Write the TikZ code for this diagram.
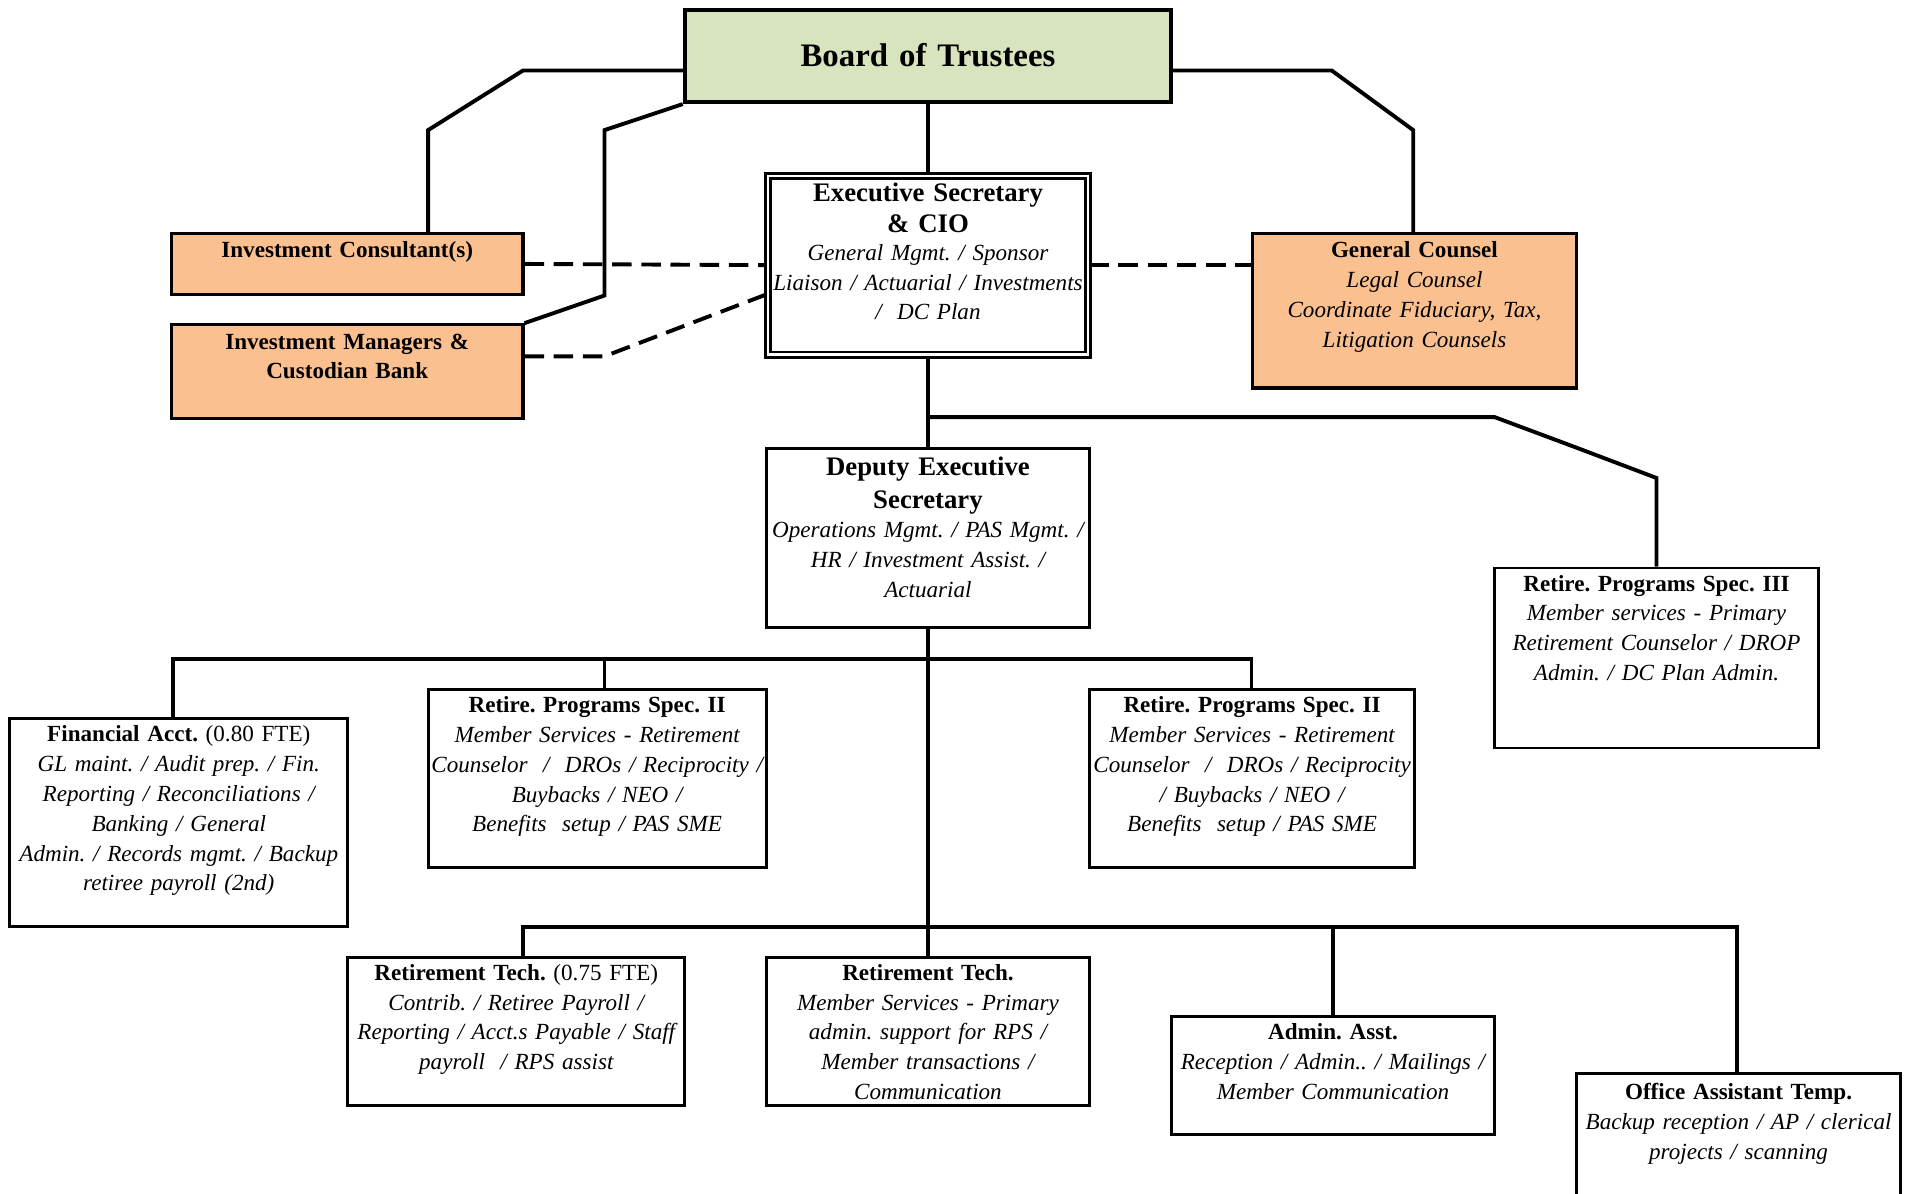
\documentclass[tikz,border=0pt]{standalone}
\usepackage{fontspec}
\setmainfont{Liberation Serif}
\definecolor{peach}{HTML}{FAC090}
\definecolor{boardgreen}{HTML}{D7E4BD}
\newcommand\orgtitle[1]{{\upshape\bfseries #1}}
\tikzset{
  box/.style={draw, rectangle, inner sep=0pt, line width=2.4pt, fill=white},
  peachbox/.style={box, fill=peach, line width=2.6pt},
  txt/.style={anchor=base, inner sep=0pt, align=center, text width=320pt,
    font=\fontsize{19}{24.5}\selectfont\itshape\frenchspacing},
  bigtxt/.style={anchor=base, inner sep=0pt, align=center, text width=320pt,
    font=\fontsize{22}{25.5}\selectfont\bfseries\frenchspacing},
  conn/.style={line width=3.2pt, line join=miter},
  dashconn/.style={line width=3.2pt, dash pattern=on 16pt off 8pt},
}
\begin{document}
\frenchspacing
\begin{tikzpicture}[x=1pt,y=-1pt]
\useasboundingbox (0,0) rectangle (1568,981);
\clip (0,0) rectangle (1568,981);

% boxes
\node[box, fill=boardgreen, line width=3.2pt, minimum width=400pt, minimum height=76pt] (board) at (763,46) {};
\node[peachbox, minimum width=289pt, minimum height=50pt] (ic) at (285.5,217) {};
\node[peachbox, minimum width=289pt, minimum height=77pt] (im) at (285.5,305.5) {};
\node[peachbox, minimum width=266pt, minimum height=127pt] (gc) at (1163,255.5) {};
\node[draw, rectangle, inner sep=0pt, line width=2.3pt, double=white, double distance=2pt, minimum width=263pt, minimum height=147pt] (exec) at (763,218) {};
\node[box, minimum width=266pt, minimum height=147pt] (dep) at (763,442.5) {};
\node[box, minimum width=266pt, minimum height=148pt] (s3) at (1362,541) {};
\node[box, minimum width=278pt, minimum height=171pt] (fin) at (147,676.5) {};
\node[box, minimum width=278pt, minimum height=146pt] (s2a) at (491,640) {};
\node[box, minimum width=267pt, minimum height=146pt] (s2b) at (1029.5,640) {};
\node[box, minimum width=277pt, minimum height=122pt] (rt1) at (424.5,848) {};
\node[box, minimum width=266pt, minimum height=122pt] (rt2) at (763,848) {};
\node[box, minimum width=266pt, minimum height=97pt] (aa) at (1096,884.5) {};
\node[box, minimum width=267pt, minimum height=114pt] (oa) at (1429.5,940) {};

% texts
\node[bigtxt, font=\fontsize{27}{30}\selectfont\bfseries] (board-t) at (763,55) {Board of Trustees};
\node[txt] (ic-t) at (285.5,212) {\orgtitle{Investment Consultant(s)}};
\node[txt] (im-t) at (285.5,287) {\orgtitle{Investment Managers \&}\\\orgtitle{Custodian Bank}};
\node[txt] (gc-t) at (1163,212) {\orgtitle{General Counsel}\\Legal Counsel\\Coordinate Fiduciary, Tax,\\Litigation Counsels};
\node[bigtxt] (exec-tt) at (763,166) {Executive Secretary\\\& CIO};
\node[txt] (exec-t) at (763,214) {General Mgmt. / Sponsor\\Liaison / Actuarial / Investments\\/~ DC Plan};
\node[bigtxt, font=\fontsize{22}{27}\selectfont\bfseries] (dep-tt) at (763,391) {Deputy Executive\\Secretary};
\node[txt] (dep-t) at (763,442) {Operations Mgmt. / PAS Mgmt. /\\HR / Investment Assist. /\\Actuarial};
\node[txt] (s3-t) at (1362,486) {\orgtitle{Retire. Programs Spec. III}\\Member services - Primary\\Retirement Counselor / DROP\\Admin. / DC Plan Admin.};
\node[txt] (fin-t) at (147,610) {\orgtitle{Financial Acct.} {\upshape(0.80 FTE)}\\GL maint. / Audit prep. / Fin.\\Reporting / Reconciliations /\\Banking / General\\Admin. / Records mgmt. / Backup\\retiree payroll (2nd)};
\node[txt] (s2a-t) at (491,586) {\orgtitle{Retire. Programs Spec. II}\\Member Services - Retirement\\Counselor~ /~ DROs / Reciprocity /\\Buybacks / NEO /\\Benefits~ setup / PAS SME};
\node[txt] (s2b-t) at (1029.5,586) {\orgtitle{Retire. Programs Spec. II}\\Member Services - Retirement\\Counselor~ /~ DROs / Reciprocity\\/ Buybacks / NEO /\\Benefits~ setup / PAS SME};
\node[txt] (rt1-t) at (424.5,806) {\orgtitle{Retirement Tech.} {\upshape(0.75 FTE)}\\Contrib. / Retiree Payroll /\\Reporting / Acct.s Payable / Staff\\payroll~ / RPS assist};
\node[txt] (rt2-t) at (763,806) {\orgtitle{Retirement Tech.}\\Member Services - Primary\\admin. support for RPS /\\Member transactions /\\Communication};
\node[txt] (aa-t) at (1096,855) {\orgtitle{Admin. Asst.}\\Reception / Admin.. / Mailings /\\Member Communication};
\node[txt] (oa-t) at (1429.5,904) {\orgtitle{Office Assistant Temp.}\\Backup reception / AP / clerical\\projects / scanning};

% connectors from board
\coordinate (icA) at (430,58);
\coordinate (icB) at (352,107);
\draw[conn] ([yshift=-12pt]board.west) -- (icA) -- (icB) -- (icB |- ic.north);
\coordinate (imA) at (497,107);
\coordinate (imB) at (497,243);
\draw[conn] (board.south west) -- (imA) -- (imB) -- (im.north east);
\coordinate (gcA) at (1095,58);
\coordinate (gcB) at (1162,107);
\draw[conn] ([yshift=-12pt]board.east) -- (gcA) -- (gcB) -- (gcB |- gc.north);
\draw[conn] (board.south) -- (exec.north);

% dashed advisory lines
\draw[dashconn] (ic.east) -- (exec.west);
\draw[dashconn] (exec.east) -- (exec.east -| gc.west);
\coordinate (imC) at (497,293);
\draw[dashconn] ([yshift=12.5pt]im.east) -- (imC) -- ([yshift=-24pt]exec.west);

% executive to deputy and spec III
\draw[conn] (exec.south) -- (dep.north);
\coordinate (s3A) at (1229,343);
\coordinate (s3B) at (1296,368);
\coordinate (s3C) at (1362,393);
\coordinate (j1) at (exec.south |- s3A);
\draw[conn] (j1) -- (s3A) -- (s3B) -- (s3C) -- (s3C |- s3.north);

% deputy down
\draw[conn] (dep.south) -- (rt2.north);
\coordinate (b1L) at (142,542);
\coordinate (b1M) at (497,542);
\coordinate (b1R) at (1029,542);
\draw[conn] (b1L |- fin.north) -- (b1L) -- (b1R) -- (b1R |- s2b.north);
\draw[conn] (b1M) -- (b1M |- s2a.north);
\coordinate (b2L) at (430,762);
\coordinate (b2R) at (1428,762);
\coordinate (b2M) at (aa.north |- b2L);
\draw[conn] (b2L |- rt1.north) -- (b2L) -- (b2R) -- (b2R |- oa.north);
\draw[conn] (b2M) -- (aa.north);
\end{tikzpicture}
\end{document}
